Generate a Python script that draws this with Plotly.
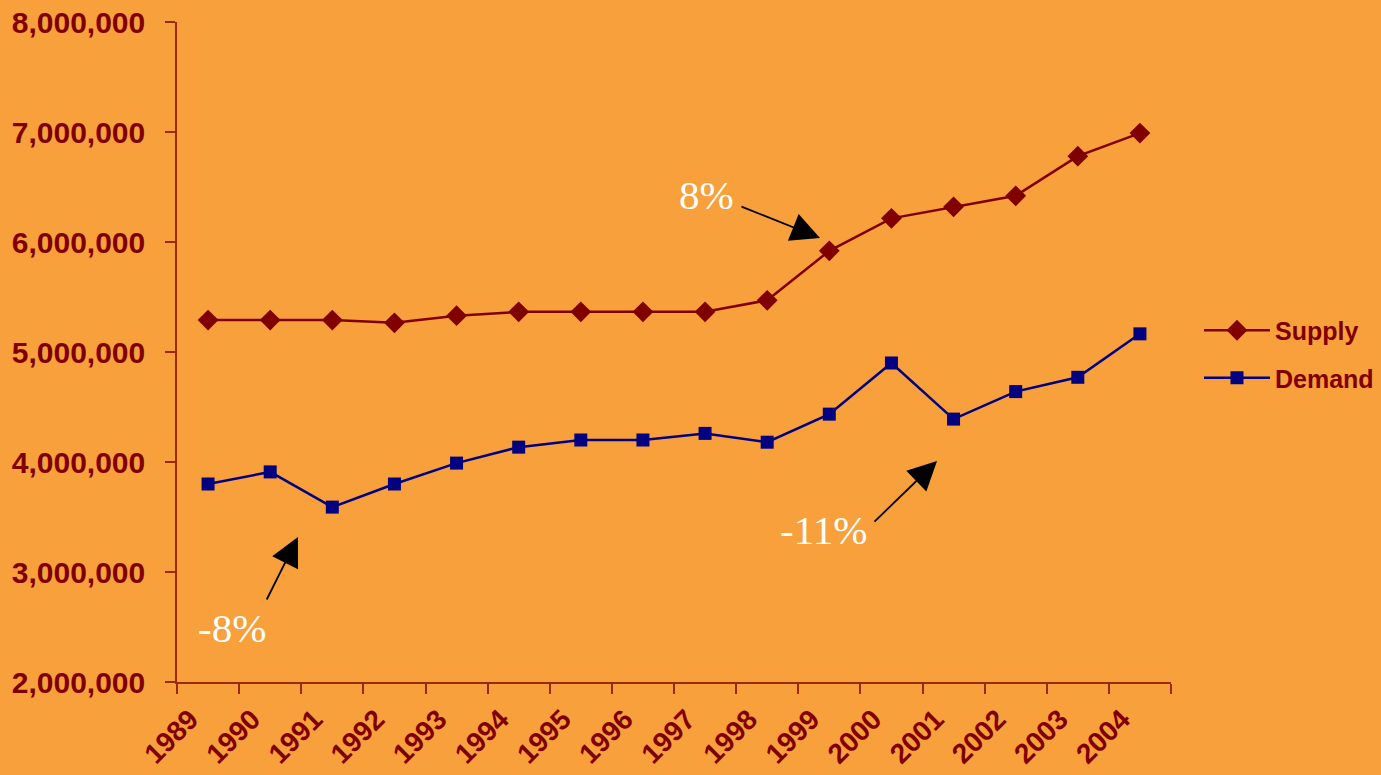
import plotly.graph_objects as go

years = [str(y) for y in range(1989, 2005)]
supply = [5290000, 5290000, 5290000, 5265000, 5330000, 5365000, 5365000, 5365000,
          5365000, 5470000, 5920000, 6215000, 6320000, 6420000, 6780000, 6990000]
demand = [3800000, 3910000, 3590000, 3800000, 3990000, 4135000, 4200000, 4200000,
          4260000, 4180000, 4435000, 4900000, 4390000, 4640000, 4770000, 5165000]

BG = "#F8A03C"
TEXT = "#800000"
AXIS = "#9A2A0A"

fig = go.Figure()
fig.add_trace(go.Scatter(
    x=years, y=supply, name="Supply", mode="lines+markers", legendgroup="s",
    line=dict(color="#800000", width=2.5),
    marker=dict(symbol="diamond", size=16, color="#800000"),
))
fig.add_trace(go.Scatter(
    x=years, y=demand, name="Demand", mode="lines+markers", legendgroup="d",
    line=dict(color="#000080", width=2.5),
    marker=dict(symbol="square", size=13, color="#000080"),
))

# percentage change call-outs: arrows and labels
arrows = [
    dict(x=0.6469, y=0.6727, ax=-80, ay=-32),
    dict(x=0.7646, y=0.3348, ax=-64, ay=62),
    dict(x=0.1217, y=0.2197, ax=-32, ay=64),
]
for a in arrows:
    fig.add_annotation(xref="paper", yref="paper", x=a["x"], y=a["y"],
                       ax=a["ax"], ay=a["ay"], text="", showarrow=True,
                       arrowhead=2, arrowsize=3.2, arrowwidth=1.8, arrowcolor="black")

labels = [("8%", 0.5322, 0.7379), ("-11%", 0.6509, 0.2303), ("-8%", 0.0553, 0.0818)]
for txt, lx, ly in labels:
    fig.add_annotation(xref="paper", yref="paper", x=lx, y=ly, text=txt,
                       showarrow=False, xanchor="center", yanchor="middle",
                       font=dict(family="Liberation Serif", size=41, color="white"))

fig.update_layout(
    width=1381, height=775,
    paper_bgcolor=BG, plot_bgcolor=BG,
    margin=dict(l=177, r=210, t=22, b=93),
    showlegend=True,
    legend=dict(xref="container", yref="container", x=0.8682, y=0.5432,
                xanchor="left", yanchor="middle",
                bgcolor="rgba(0,0,0,0)", itemwidth=66, tracegroupgap=12,
                font=dict(family="Liberation Sans", size=25, color=TEXT, weight="bold")),
    font=dict(family="Liberation Sans", color=TEXT),
)
fig.update_xaxes(
    type="category", range=[-0.5, 15.5], tickson="boundaries", automargin=False,
    ticks="outside", ticklen=10, tickcolor=AXIS, tickwidth=1.5,
    showline=True, linecolor=AXIS, linewidth=1.5, showgrid=False, zeroline=False,
    tickangle=-45, ticklabelstandoff=8, ticklabelshift=-18,
    tickfont=dict(family="Liberation Sans", size=28, color=TEXT, weight="bold"),
)
fig.update_yaxes(
    range=[2000000, 8000000], dtick=1000000, tickformat=",", automargin=False,
    ticks="outside", ticklen=10, tickcolor=AXIS, tickwidth=1.5,
    showline=True, linecolor=AXIS, linewidth=1.5, showgrid=False, zeroline=False,
    ticklabelstandoff=14,
    tickfont=dict(family="Liberation Sans", size=30, color=TEXT, weight="bold"),
)

fig.write_html("out.html")
